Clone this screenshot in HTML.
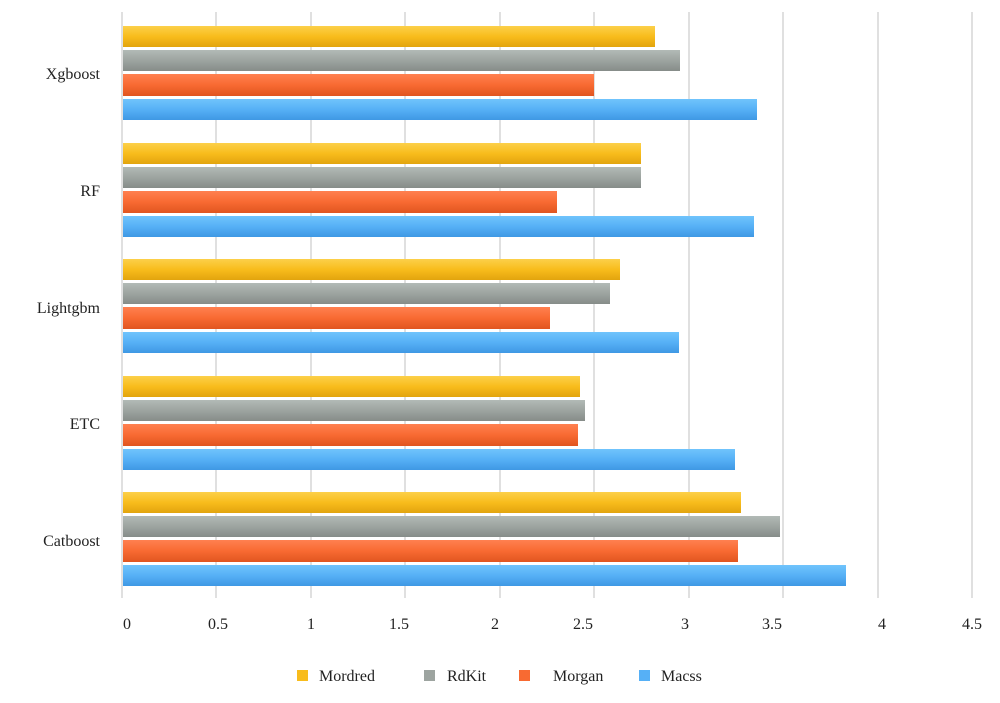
<!DOCTYPE html>
<html><head><style>
body{margin:0;background:#fff;width:1000px;height:698px;overflow:hidden}
svg text{font-family:"Liberation Serif",serif;font-size:16px;fill:#222}
</style></head><body>
<svg width="1000" height="698" xmlns="http://www.w3.org/2000/svg">
<defs>
<linearGradient id="y" x1="0" y1="0" x2="0" y2="1"><stop offset="0" stop-color="#fcd04a"/><stop offset="0.5" stop-color="#f8bc1c"/><stop offset="1" stop-color="#e2a40e"/></linearGradient>
<linearGradient id="g" x1="0" y1="0" x2="0" y2="1"><stop offset="0" stop-color="#b2bab6"/><stop offset="0.5" stop-color="#9da4a0"/><stop offset="1" stop-color="#868c89"/></linearGradient>
<linearGradient id="o" x1="0" y1="0" x2="0" y2="1"><stop offset="0" stop-color="#ff8050"/><stop offset="0.5" stop-color="#f86a32"/><stop offset="1" stop-color="#e05520"/></linearGradient>
<linearGradient id="b" x1="0" y1="0" x2="0" y2="1"><stop offset="0" stop-color="#70c4fc"/><stop offset="0.5" stop-color="#56b0f6"/><stop offset="1" stop-color="#3f98e4"/></linearGradient>
</defs>
<g stroke="#d6d6d6" stroke-width="1.5">
<line x1="122" y1="12" x2="122" y2="598"/>
<line x1="216" y1="12" x2="216" y2="598"/>
<line x1="311" y1="12" x2="311" y2="598"/>
<line x1="405" y1="12" x2="405" y2="598"/>
<line x1="500" y1="12" x2="500" y2="598"/>
<line x1="594" y1="12" x2="594" y2="598"/>
<line x1="689" y1="12" x2="689" y2="598"/>
<line x1="783" y1="12" x2="783" y2="598"/>
<line x1="878" y1="12" x2="878" y2="598"/>
<line x1="972" y1="12" x2="972" y2="598"/>
</g>
<g>
<rect x="123" y="26" width="532" height="21" fill="url(#y)"/>
<rect x="123" y="50" width="557" height="21" fill="url(#g)"/>
<rect x="123" y="74" width="471" height="22" fill="url(#o)"/>
<rect x="123" y="99" width="634" height="21" fill="url(#b)"/>

<rect x="123" y="143" width="518" height="21" fill="url(#y)"/>
<rect x="123" y="167" width="518" height="21" fill="url(#g)"/>
<rect x="123" y="191" width="434" height="22" fill="url(#o)"/>
<rect x="123" y="216" width="631" height="21" fill="url(#b)"/>

<rect x="123" y="259" width="497" height="21" fill="url(#y)"/>
<rect x="123" y="283" width="487" height="21" fill="url(#g)"/>
<rect x="123" y="307" width="427" height="22" fill="url(#o)"/>
<rect x="123" y="332" width="556" height="21" fill="url(#b)"/>

<rect x="123" y="376" width="457" height="21" fill="url(#y)"/>
<rect x="123" y="400" width="462" height="21" fill="url(#g)"/>
<rect x="123" y="424" width="455" height="22" fill="url(#o)"/>
<rect x="123" y="449" width="612" height="21" fill="url(#b)"/>

<rect x="123" y="492" width="618" height="21" fill="url(#y)"/>
<rect x="123" y="516" width="657" height="21" fill="url(#g)"/>
<rect x="123" y="540" width="615" height="22" fill="url(#o)"/>
<rect x="123" y="565" width="723" height="21" fill="url(#b)"/>
</g>
<g text-anchor="end">
<text x="100" y="79">Xgboost</text>
<text x="100" y="196">RF</text>
<text x="100" y="313">Lightgbm</text>
<text x="100" y="429">ETC</text>
<text x="100" y="546">Catboost</text>
</g>
<g text-anchor="middle">
<text x="127" y="629">0</text>
<text x="218" y="629">0.5</text>
<text x="311" y="629">1</text>
<text x="399" y="629">1.5</text>
<text x="495" y="629">2</text>
<text x="583" y="629">2.5</text>
<text x="685" y="629">3</text>
<text x="772" y="629">3.5</text>
<text x="882" y="629">4</text>
<text x="972" y="629">4.5</text>
</g>
<rect x="297" y="670" width="11" height="11" fill="#f8bc1c"/>
<text x="319" y="681">Mordred</text>
<rect x="424" y="670" width="11" height="11" fill="#9da4a0"/>
<text x="447" y="681">RdKit</text>
<rect x="519" y="670" width="11" height="11" fill="#f86a32"/>
<text x="553" y="681">Morgan</text>
<rect x="639" y="670" width="11" height="11" fill="#56b0f6"/>
<text x="661" y="681">Macss</text>
</svg>
</body></html>
